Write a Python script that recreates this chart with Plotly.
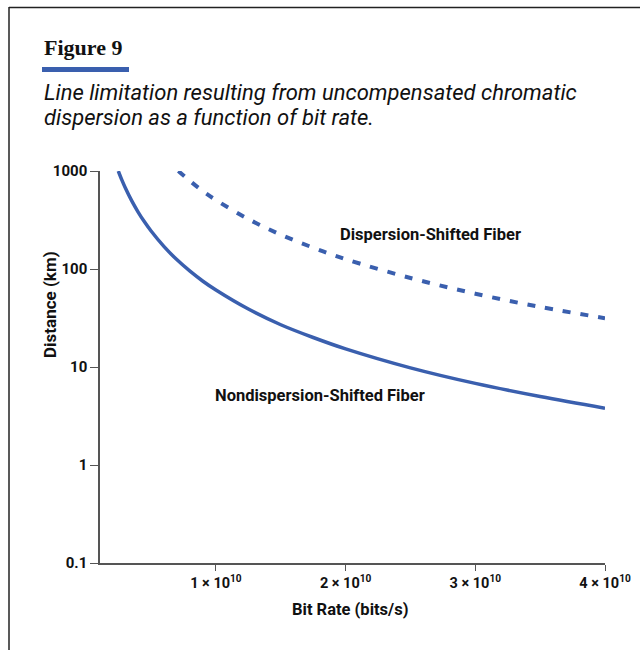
import plotly.graph_objects as go

# Bit rate in units of 1e10 bits/s, distance in km
bit_rate_nds = [0.247, 0.275, 0.3, 0.35, 0.4, 0.45, 0.5, 0.6, 0.7, 0.8, 0.9, 1.0,
                1.25, 1.5, 1.75, 2.0, 2.5, 3.0, 3.5, 4.0]
dist_nds = [1000, 807, 678, 498, 381, 301, 244, 169, 124, 95, 75, 61,
            39, 27, 20, 15.3, 9.8, 6.8, 5.0, 3.8]

bit_rate_ds = [0.71, 0.8, 0.9, 1.0, 1.25, 1.5, 1.75, 2.0, 2.5, 3.0, 3.5, 4.0]
dist_ds = [1000, 790, 622, 505, 323, 224, 165, 126, 81, 56, 41, 31.5]

x_tickvals = [1, 2, 3, 4]
x_ticktext = ["<b>1 \u00d7 10<sup>10</sup></b>", "<b>2 \u00d7 10<sup>10</sup></b>",
              "<b>3 \u00d7 10<sup>10</sup></b>", "<b>4 \u00d7 10<sup>10</sup></b>"]
y_tickvals = [0.1, 1, 10, 100, 1000]
y_ticktext = ["<b>0.1</b>", "<b>1</b>", "<b>10</b>", "<b>100</b>", "<b>1000</b>"]

BLUE = "#3a5fae"
FONT = "Liberation Sans Narrow, Arial Narrow, Roboto, Liberation Sans, sans-serif"

W, H = 640, 650
L, R, T, B = 100, 35, 171, 87
pw, ph = W - L - R, H - T - B


def px(x):
    return (x - L) / pw


def py(y):
    return (H - B - y) / ph


fig = go.Figure()
fig.add_trace(go.Scatter(x=bit_rate_nds, y=dist_nds, mode="lines",
                         line=dict(color=BLUE, width=3.5, shape="spline"),
                         hoverinfo="skip", showlegend=False))
fig.add_trace(go.Scatter(x=bit_rate_ds, y=dist_ds, mode="lines",
                         line=dict(color=BLUE, width=4, shape="spline", dash="8px,10px"),
                         hoverinfo="skip", showlegend=False))

fig.update_layout(
    width=W, height=H,
    margin=dict(l=L, r=R, t=T, b=B, autoexpand=False),
    paper_bgcolor="white", plot_bgcolor="white",
    font=dict(family=FONT, color="#111"),
    showlegend=False,
)
fig.update_xaxes(range=[0.106, 4.0], tickvals=x_tickvals, ticktext=x_ticktext,
                 showgrid=False, zeroline=False, showline=True, linecolor="#555",
                 linewidth=1.5, ticks="outside", ticklen=6, tickcolor="#555",
                 tickwidth=1.2, tickfont=dict(size=14.5, family=FONT, color="#111"),
                 fixedrange=True, automargin=False)
fig.update_yaxes(type="log", range=[-1, 3], tickvals=y_tickvals, ticktext=y_ticktext,
                 showgrid=False, zeroline=False, showline=True, linecolor="#555",
                 linewidth=1.5, ticks="outside", ticklen=8, tickcolor="#555",
                 tickwidth=1.2, tickfont=dict(size=15, family=FONT, color="#111"),
                 fixedrange=True, automargin=False)

annotations = [
    dict(text="<b>Figure 9</b>", x=px(42), y=py(47), xanchor="left", yanchor="middle",
         font=dict(family="Liberation Serif, DejaVu Serif, serif", size=22, color="#111")),
    dict(text="<i>Line limitation resulting from uncompensated chromatic</i>",
         x=px(42), y=py(93), xanchor="left", yanchor="middle", align="left",
         font=dict(family=FONT, size=22, color="#111")),
    dict(text="<i>dispersion as a function of bit rate.</i>",
         x=px(42), y=py(117), xanchor="left", yanchor="middle", align="left",
         font=dict(family=FONT, size=22, color="#111")),
    dict(text="<b>Distance (km)</b>", x=px(50), y=py(305), textangle=-90,
         xanchor="center", yanchor="middle", font=dict(family=FONT, size=17, color="#111")),
    dict(text="<b>Bit Rate (bits/s)</b>", x=px(350), y=py(609),
         xanchor="center", yanchor="middle", font=dict(family=FONT, size=16.5, color="#111")),
    dict(text="<b>Dispersion-Shifted Fiber</b>", x=px(430), y=py(234),
         xanchor="center", yanchor="middle", font=dict(family=FONT, size=16.5, color="#111")),
    dict(text="<b>Nondispersion-Shifted Fiber</b>", x=px(320), y=py(395),
         xanchor="center", yanchor="middle", font=dict(family=FONT, size=16.5, color="#111")),
]
for a in annotations:
    a.update(xref="paper", yref="paper", showarrow=False)
fig.update_layout(annotations=annotations)

# bar under title and frame lines
fig.update_layout(shapes=[
    dict(type="rect", xref="paper", yref="paper", x0=px(42), x1=px(129), y0=py(72), y1=py(67),
         fillcolor=BLUE, line=dict(width=0)),
    dict(type="line", xref="paper", yref="paper", x0=px(9), x1=px(640), y0=py(7.5), y1=py(7.5),
         line=dict(color="#222", width=1.5)),
    dict(type="line", xref="paper", yref="paper", x0=px(9), x1=px(9), y0=py(7), y1=py(650),
         line=dict(color="#222", width=1.5)),
])

fig.write_html("out.html")
